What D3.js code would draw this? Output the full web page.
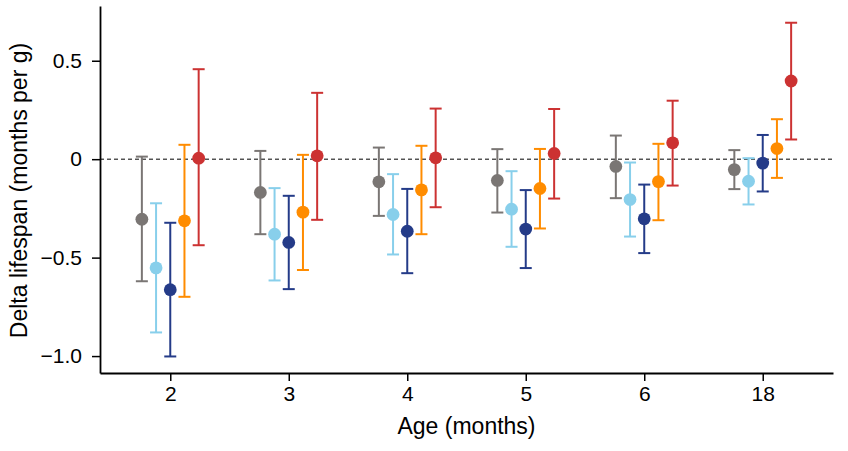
<!DOCTYPE html>
<html>
<head>
<meta charset="utf-8">
<script src="https://cdn.jsdelivr.net/npm/d3@7"></script>
<style>
  body { margin: 0; background: #fff; }
  text { font-family: "Liberation Sans", Arial, sans-serif; fill: #000; }
</style>
</head>
<body>
<svg></svg>
<script>
const ages = ['2', '3', '4', '5', '6', '18']

const seriesNames = ['gray', 'lightblue', 'navy', 'orange', 'red']
const seriesColors = ['#7a7674', '#88cfeb', '#243b88', '#ff8c00', '#cc3232']

// point estimate, lower and upper end of each error bar, one value per age
const grayMean  = [-0.305, -0.169, -0.115, -0.108, -0.037, -0.053]
const grayLow   = [-0.620, -0.381, -0.288, -0.271, -0.198, -0.152]
const grayHigh  = [ 0.013,  0.042,  0.059,  0.051,  0.120,  0.046]

const lblueMean = [-0.552, -0.381, -0.281, -0.254, -0.205, -0.112]
const lblueLow  = [-0.880, -0.616, -0.484, -0.445, -0.393, -0.230]
const lblueHigh = [-0.224, -0.147, -0.076, -0.061, -0.017,  0.005]

const navyMean  = [-0.663, -0.423, -0.366, -0.355, -0.303, -0.020]
const navyLow   = [-1.002, -0.660, -0.579, -0.553, -0.477, -0.164]
const navyHigh  = [-0.323, -0.186, -0.151, -0.157, -0.129,  0.123]

const orangeMean = [-0.313, -0.269, -0.156, -0.149, -0.114,  0.054]
const orangeLow  = [-0.699, -0.563, -0.381, -0.352, -0.310, -0.095]
const orangeHigh = [ 0.073,  0.022,  0.068,  0.052,  0.078,  0.203]

const redMean = [0.005,  0.017,  0.007,  0.029,  0.083, 0.397]
const redLow  = [-0.437, -0.308, -0.244, -0.200, -0.134, 0.100]
const redHigh = [0.457,  0.337,  0.257,  0.255,  0.297, 0.693]

const yTicks = [-1.0, -0.5, 0, 0.5]
const yTickLabels = ['\u22121.0', '\u22120.5', '0', '0.5']

const means = [grayMean, lblueMean, navyMean, orangeMean, redMean]
const lows = [grayLow, lblueLow, navyLow, orangeLow, redLow]
const highs = [grayHigh, lblueHigh, navyHigh, orangeHigh, redHigh]

const points = []
seriesNames.forEach((s, si) => {
    ages.forEach((a, ai) => {
        points.push({ series: s, si: si, age: a, mean: means[si][ai], low: lows[si][ai], high: highs[si][ai] })
    })
})

const
    svgWidth = 848,
    svgHeight = 451,
    plotLeft = 100, plotRight = 833, plotTop = 6, plotBottom = 373,
    dodge = 14.2,
    capHalf = 6,
    dotR = 6.4

let svg = d3.select('svg')
    .attr('width', svgWidth)
    .attr('height', svgHeight)

let x = d3.scalePoint()
    .domain(ages)
    .range([plotLeft, plotRight])
    .padding(0.593)

let y = d3.scaleLinear()
    .domain([-1.086, 0.778])
    .range([plotBottom, plotTop])

let px = d => x(d.age) + (d.si - 2) * dodge

// zero reference line
svg.append('line')
    .attr('x1', plotLeft).attr('x2', plotRight)
    .attr('y1', y(0)).attr('y2', y(0))
    .attr('stroke', '#000')
    .attr('stroke-width', 1)
    .attr('stroke-dasharray', '4,3')

// axes
let yAxis = svg.append('g')
    .attr('transform', `translate(${plotLeft},0)`)
    .call(d3.axisLeft(y).tickValues(yTicks).tickFormat((d, i) => yTickLabels[i]).tickSize(8).tickSizeOuter(0).tickPadding(10))
yAxis.select('.domain').attr('stroke-width', 1.8)
yAxis.selectAll('.tick line').attr('stroke-width', 1.5)
yAxis.selectAll('.tick text').style('font-size', '21px').attr('font-family', null)

let xAxis = svg.append('g')
    .attr('transform', `translate(0,${plotBottom})`)
    .call(d3.axisBottom(x).tickSize(8).tickSizeOuter(0).tickPadding(5))
xAxis.select('.domain').attr('stroke-width', 1.8)
xAxis.selectAll('.tick line').attr('stroke-width', 1.5)
xAxis.selectAll('.tick text').style('font-size', '21px').attr('font-family', null)

// error bars
let bars = svg.selectAll('g.bar')
    .data(points)
    .enter()
    .append('g')
        .attr('class', 'bar')
        .attr('stroke', d => seriesColors[d.si])
        .attr('stroke-width', 2)

bars.append('line')
    .attr('x1', px).attr('x2', px)
    .attr('y1', d => y(d.low)).attr('y2', d => y(d.high))
bars.append('line')
    .attr('x1', d => px(d) - capHalf).attr('x2', d => px(d) + capHalf)
    .attr('y1', d => y(d.low)).attr('y2', d => y(d.low))
bars.append('line')
    .attr('x1', d => px(d) - capHalf).attr('x2', d => px(d) + capHalf)
    .attr('y1', d => y(d.high)).attr('y2', d => y(d.high))

svg.selectAll('circle')
    .data(points)
    .enter()
    .append('circle')
        .attr('cx', px)
        .attr('cy', d => y(d.mean))
        .attr('r', dotR)
        .attr('fill', d => seriesColors[d.si])

// axis titles
svg.append('text')
    .attr('x', (plotLeft + plotRight) / 2)
    .attr('y', 434)
    .attr('text-anchor', 'middle')
    .style('font-size', '23px')
    .text('Age (months)')

svg.append('text')
    .attr('transform', `translate(27,${(plotTop + plotBottom) / 2 + 1}) rotate(-90)`)
    .attr('text-anchor', 'middle')
    .style('font-size', '23px')
    .text('Delta lifespan (months per g)')
</script>
</body>
</html>
